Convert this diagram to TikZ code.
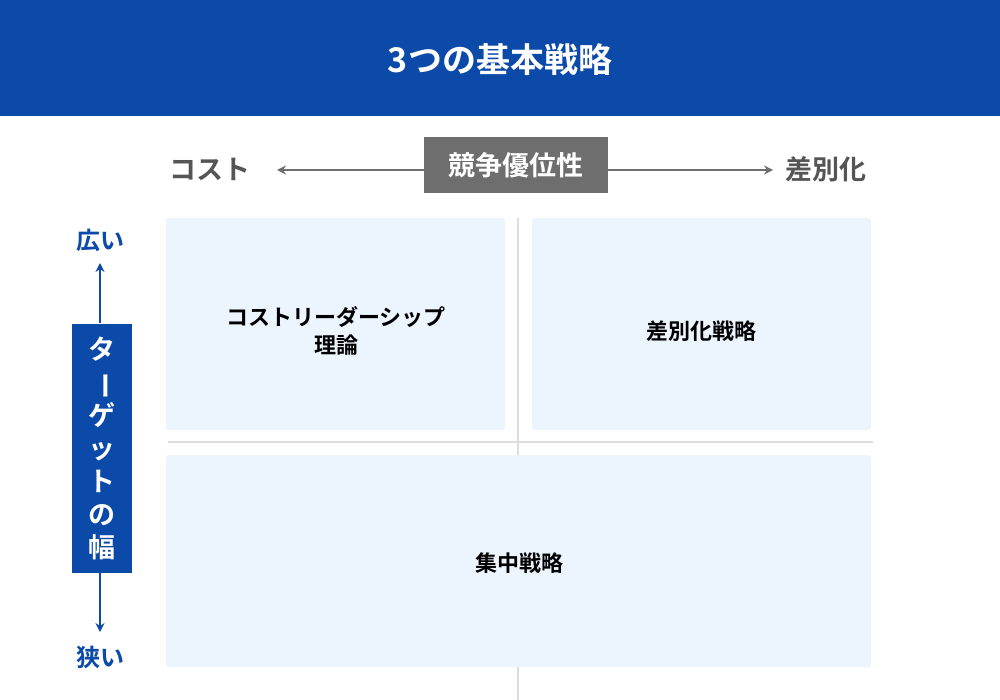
\documentclass[tikz,border=0pt]{standalone}
\usepackage{fontspec}
\usepackage{graphicx}
\usetikzlibrary{arrows.meta}
\setmainfont{Noto Sans CJK JP}[BoldFont={* Bold}]
\begin{document}
\begin{tikzpicture}[x=1pt,y=-1pt,
  panel/.style={fill=panelbg,rounded corners=3pt,draw=none},
  arr/.style={draw=arrgray,line width=2.2pt,-{Stealth[length=9pt,width=9pt]}},
  barr/.style={draw=mainblue,line width=2.2pt,-{Stealth[length=9pt,width=9pt]}},
  ptext/.style={font=\fontsize{22}{28}\selectfont\bfseries,align=center}]
\definecolor{mainblue}{HTML}{0B4AA8}
\definecolor{panelbg}{HTML}{ECF4FD}
\definecolor{arrgray}{HTML}{6E6E6E}
\definecolor{txtgray}{HTML}{555555}
\definecolor{gridgray}{HTML}{DDDDDD}
\useasboundingbox (0,0) rectangle (1000,700);
\fill[white] (0,0) rectangle (1000,700);
\fill[mainblue] (0,0) rectangle (1000,116);
\node[text=white,font=\fontsize{34}{40}\selectfont\bfseries] (title) at (500,60) {3つの基本戦略};
% grid lines
\draw[gridgray,line width=1.5pt] (518,218) -- (518,700);
\draw[gridgray,line width=1.5pt] (168,442) -- (873,442);
% panels
\fill[panel] (166,218) rectangle (505,430);
\fill[panel] (532,218) rectangle (871,430);
\fill[panel] (166,455) rectangle (871,667);
\node[ptext] (p1) at (336,331) {コストリーダーシップ\\理論};
\node[ptext] (p2) at (701,331) {差別化戦略};
\node[ptext] (p3) at (519,563) {集中戦略};
% top axis
\node[fill=arrgray,text=white,font=\fontsize{27}{32}\selectfont\bfseries,minimum width=184pt,minimum height=56pt,inner sep=0pt] (adv) at (516,165) {競争優位性};
\node[text=txtgray,font=\fontsize{27}{32}\selectfont\bfseries] (cost) at (210,169) {コスト};
\node[text=txtgray,font=\fontsize{27}{32}\selectfont\bfseries] (diff) at (826,169) {差別化};
\draw[arr] (adv.west |- 0,170) -- (277,170);
\draw[arr] (adv.east |- 0,170) -- (773,170);
% left axis
\node[fill=mainblue,minimum width=60pt,minimum height=249pt,inner sep=0pt] (tw) at (102,448) {};
\node[text=white,font=\fontsize{27}{33}\selectfont\bfseries,align=center] at (tw) {タ\\\rotatebox[origin=c]{-90}{ー}\\ゲ\\ッ\\ト\\の\\幅};
\node[text=mainblue,font=\fontsize{24}{30}\selectfont\bfseries] (wide) at (100,240) {広い};
\node[text=mainblue,font=\fontsize{24}{30}\selectfont\bfseries] (narrow) at (100,657) {狭い};
\draw[barr] (tw.north -| 100,0) -- (100,263);
\draw[barr] (tw.south -| 100,0) -- (100,632);
\end{tikzpicture}
\end{document}
